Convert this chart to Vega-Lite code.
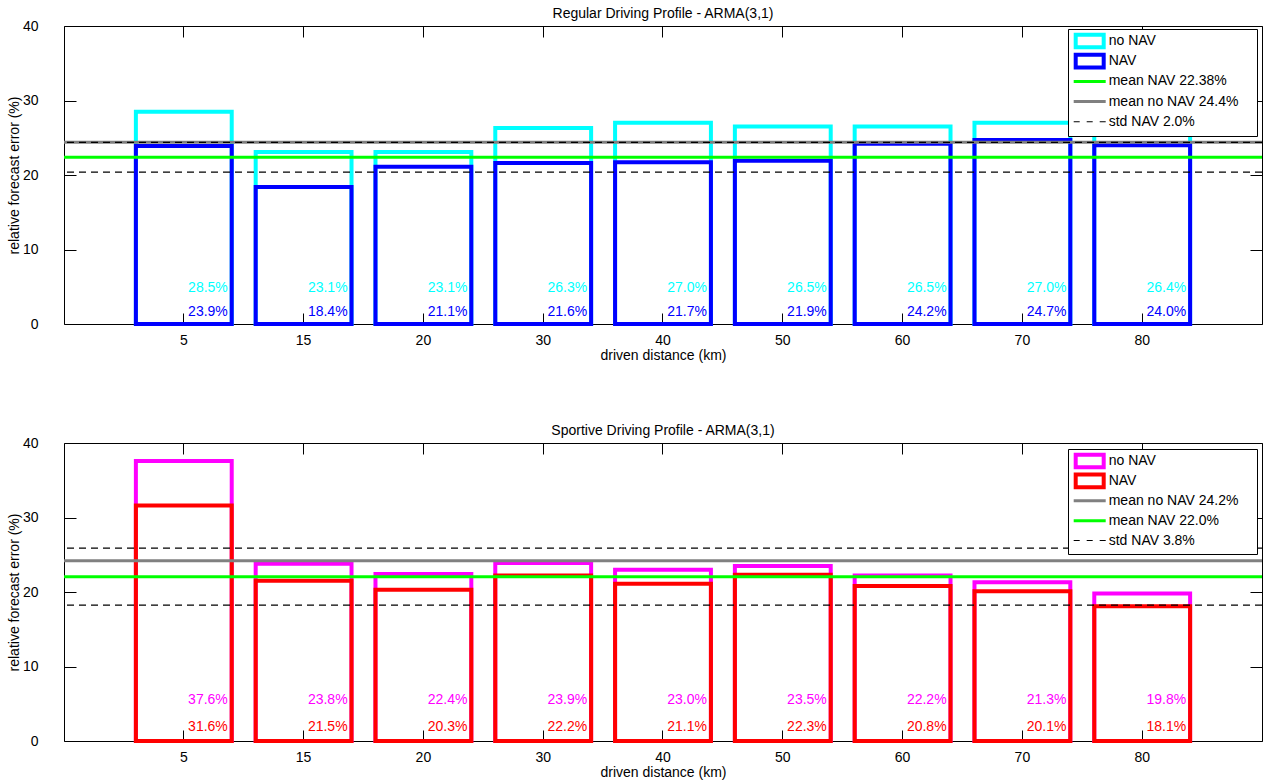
{
  "$schema": "https://vega.github.io/schema/vega-lite/v6.json",
  "padding": {"left": 6, "top": 6, "right": 0, "bottom": 0},
  "datasets": {
    "regular": [
      {"dist": "5", "noNav": 28.5, "nav": 23.9},
      {"dist": "15", "noNav": 23.1, "nav": 18.4},
      {"dist": "20", "noNav": 23.1, "nav": 21.1},
      {"dist": "30", "noNav": 26.3, "nav": 21.6},
      {"dist": "40", "noNav": 27.0, "nav": 21.7},
      {"dist": "50", "noNav": 26.5, "nav": 21.9},
      {"dist": "60", "noNav": 26.5, "nav": 24.2},
      {"dist": "70", "noNav": 27.0, "nav": 24.7},
      {"dist": "80", "noNav": 26.4, "nav": 24.0}
    ],
    "sportive": [
      {"dist": "5", "noNav": 37.6, "nav": 31.6},
      {"dist": "15", "noNav": 23.8, "nav": 21.5},
      {"dist": "20", "noNav": 22.4, "nav": 20.3},
      {"dist": "30", "noNav": 23.9, "nav": 22.2},
      {"dist": "40", "noNav": 23.0, "nav": 21.1},
      {"dist": "50", "noNav": 23.5, "nav": 22.3},
      {"dist": "60", "noNav": 22.2, "nav": 20.8},
      {"dist": "70", "noNav": 21.3, "nav": 20.1},
      {"dist": "80", "noNav": 19.8, "nav": 18.1}
    ]
  },
  "spacing": 60,
  "resolve": {"scale": {"x": "independent", "y": "independent", "fill": "independent"}, "legend": {"fill": "independent"}},
  "vconcat": [
    {
      "width": 1198, "height": 298,
      "title": {"text": "Regular Driving Profile - ARMA(3,1)"},
      "data": {"name": "regular"},
      "resolve": {"axis": {"x": "independent", "y": "independent"}},
      "layer": [
        {
          "mark": {"type": "bar", "filled": false, "stroke": "#00ffff", "strokeWidth": 4, "strokeJoin": "miter"},
          "encoding": {
            "x": {"field": "dist", "type": "ordinal", "scale": {"type": "band", "domain": ["5","15","20","30","40","50","60","70","80"], "paddingInner": 0.2, "paddingOuter": 0.6},
                  "axis": {"orient": "bottom", "title": "driven distance (km)", "tickSize": -11, "labelPadding": 20, "titlePadding": 1, "labelAngle": 0}},
            "y": {"field": "noNav", "type": "quantitative", "scale": {"domain": [0, 40], "nice": false},
                  "axis": {"orient": "left", "values": [0, 10, 20, 30, 40], "tickSize": -12, "labelPadding": 38, "title": "relative forecast error (%)", "titlePadding": 1}}
          }
        },
        {
          "mark": {"type": "bar", "filled": false, "stroke": "#0000ff", "strokeWidth": 4, "strokeJoin": "miter"},
          "encoding": {
            "x": {"field": "dist", "type": "ordinal", "scale": {"type": "band", "domain": ["5","15","20","30","40","50","60","70","80"], "paddingInner": 0.2, "paddingOuter": 0.6},
                  "axis": {"orient": "top", "labels": false, "title": null, "tickSize": -11}},
            "y": {"field": "nav", "type": "quantitative", "scale": {"domain": [0, 40], "nice": false},
                  "axis": {"orient": "right", "values": [0, 10, 20, 30, 40], "labels": false, "title": null, "tickSize": -12}}
          }
        },
        {
          "data": {"values": [{"v": 22.38}]},
          "mark": {"type": "rule", "color": "#00ff00", "strokeWidth": 3},
          "encoding": {"y": {"field": "v", "type": "quantitative", "axis": null}}
        },
        {
          "data": {"values": [{"v": 24.4}]},
          "mark": {"type": "rule", "color": "#808080", "strokeWidth": 3},
          "encoding": {"y": {"field": "v", "type": "quantitative", "axis": null}}
        },
        {
          "data": {"values": [{"v": 24.38}, {"v": 20.38}]},
          "mark": {"type": "rule", "color": "#000000", "strokeWidth": 1.2, "strokeDash": [7, 5]},
          "encoding": {"y": {"field": "v", "type": "quantitative", "axis": null}}
        },
        {
          "mark": {"type": "text", "align": "right", "baseline": "middle", "xOffset": 44, "fontSize": 14, "font": "Liberation Sans", "fill": "#00ffff",
                   "text": {"expr": "format(datum.noNav, '.1f') + '%'"}},
          "encoding": {
            "x": {"field": "dist", "type": "ordinal", "scale": {"type": "band", "domain": ["5","15","20","30","40","50","60","70","80"], "paddingInner": 0.2, "paddingOuter": 0.6}, "axis": null},
            "y": {"datum": 4.77, "type": "quantitative", "axis": null}
          }
        },
        {
          "mark": {"type": "text", "align": "right", "baseline": "middle", "xOffset": 44, "fontSize": 14, "font": "Liberation Sans", "fill": "#0000ff",
                   "text": {"expr": "format(datum.nav, '.1f') + '%'"}},
          "encoding": {
            "x": {"field": "dist", "type": "ordinal", "scale": {"type": "band", "domain": ["5","15","20","30","40","50","60","70","80"], "paddingInner": 0.2, "paddingOuter": 0.6}, "axis": null},
            "y": {"datum": 1.64, "type": "quantitative", "axis": null}
          }
        },
        {
          "data": {"values": [{"k": "no NAV"}]},
          "mark": {"type": "text", "text": ""},
          "encoding": {
            "fill": {"field": "k", "type": "nominal",
              "scale": {"domain": ["no NAV", "NAV", "mean NAV 22.38%", "mean no NAV 24.4%", "std NAV 2.0%"], "range": ["#00ffff", "#0000ff", "#00ff00", "#808080", "#000000"]},
              "legend": {
                "orient": "none", "legendX": 1004, "legendY": 3, "title": " ", "titleOrient": "right", "titlePadding": 14, "titleFontSize": 14,
                "fillColor": "white", "strokeColor": "black", "padding": 5,
                "labelFontSize": 14, "labelFont": "Liberation Sans", "labelColor": "black",
                "symbolSize": 169, "symbolStrokeWidth": 0, "symbolOffset": 9.7, "labelOffset": 12, "rowPadding": 2.2,
                "symbolOpacity": 1,
                "symbolType": {"expr": "(datum.value == 'no NAV' || datum.value == 'NAV') ? 'M-2.462,-1.285H2.462V1.285H-2.462ZM-1.846,-0.669V0.669H1.846V-0.669Z' : indexof(datum.value, 'std') == 0 ? 'M-2.462,-0.08H-1.538V0.08H-2.462ZM-0.462,-0.08H0.462V0.08H-0.462ZM1.538,-0.08H2.462V0.08H1.538ZM0,-1.285M0,1.285' : 'M-2.462,-0.231H2.462V0.231H-2.462ZM0,-1.285M0,1.285'"}
              }
            }
          }
        }
      ]
    },
    {
      "width": 1198, "height": 298,
      "title": {"text": "Sportive Driving Profile - ARMA(3,1)"},
      "data": {"name": "sportive"},
      "resolve": {"axis": {"x": "independent", "y": "independent"}},
      "layer": [
        {
          "mark": {"type": "bar", "filled": false, "stroke": "#ff00ff", "strokeWidth": 4, "strokeJoin": "miter"},
          "encoding": {
            "x": {"field": "dist", "type": "ordinal", "scale": {"type": "band", "domain": ["5","15","20","30","40","50","60","70","80"], "paddingInner": 0.2, "paddingOuter": 0.6},
                  "axis": {"orient": "bottom", "title": "driven distance (km)", "tickSize": -11, "labelPadding": 20, "titlePadding": 1, "labelAngle": 0}},
            "y": {"field": "noNav", "type": "quantitative", "scale": {"domain": [0, 40], "nice": false},
                  "axis": {"orient": "left", "values": [0, 10, 20, 30, 40], "tickSize": -12, "labelPadding": 38, "title": "relative forecast error (%)", "titlePadding": 1}}
          }
        },
        {
          "mark": {"type": "bar", "filled": false, "stroke": "#ff0000", "strokeWidth": 4, "strokeJoin": "miter"},
          "encoding": {
            "x": {"field": "dist", "type": "ordinal", "scale": {"type": "band", "domain": ["5","15","20","30","40","50","60","70","80"], "paddingInner": 0.2, "paddingOuter": 0.6},
                  "axis": {"orient": "top", "labels": false, "title": null, "tickSize": -11}},
            "y": {"field": "nav", "type": "quantitative", "scale": {"domain": [0, 40], "nice": false},
                  "axis": {"orient": "right", "values": [0, 10, 20, 30, 40], "labels": false, "title": null, "tickSize": -12}}
          }
        },
        {
          "data": {"values": [{"v": 24.2}]},
          "mark": {"type": "rule", "color": "#808080", "strokeWidth": 3},
          "encoding": {"y": {"field": "v", "type": "quantitative", "axis": null}}
        },
        {
          "data": {"values": [{"v": 22.05}]},
          "mark": {"type": "rule", "color": "#00ff00", "strokeWidth": 3},
          "encoding": {"y": {"field": "v", "type": "quantitative", "axis": null}}
        },
        {
          "data": {"values": [{"v": 25.9}, {"v": 18.25}]},
          "mark": {"type": "rule", "color": "#000000", "strokeWidth": 1.2, "strokeDash": [7, 5]},
          "encoding": {"y": {"field": "v", "type": "quantitative", "axis": null}}
        },
        {
          "mark": {"type": "text", "align": "right", "baseline": "middle", "xOffset": 44, "fontSize": 14, "font": "Liberation Sans", "fill": "#ff00ff",
                   "text": {"expr": "format(datum.noNav, '.1f') + '%'"}},
          "encoding": {
            "x": {"field": "dist", "type": "ordinal", "scale": {"type": "band", "domain": ["5","15","20","30","40","50","60","70","80"], "paddingInner": 0.2, "paddingOuter": 0.6}, "axis": null},
            "y": {"datum": 5.44, "type": "quantitative", "axis": null}
          }
        },
        {
          "mark": {"type": "text", "align": "right", "baseline": "middle", "xOffset": 44, "fontSize": 14, "font": "Liberation Sans", "fill": "#ff0000",
                   "text": {"expr": "format(datum.nav, '.1f') + '%'"}},
          "encoding": {
            "x": {"field": "dist", "type": "ordinal", "scale": {"type": "band", "domain": ["5","15","20","30","40","50","60","70","80"], "paddingInner": 0.2, "paddingOuter": 0.6}, "axis": null},
            "y": {"datum": 1.85, "type": "quantitative", "axis": null}
          }
        },
        {
          "data": {"values": [{"k": "no NAV"}]},
          "mark": {"type": "text", "text": ""},
          "encoding": {
            "fill": {"field": "k", "type": "nominal",
              "scale": {"domain": ["no NAV", "NAV", "mean no NAV 24.2%", "mean NAV 22.0%", "std NAV 3.8%"], "range": ["#ff00ff", "#ff0000", "#808080", "#00ff00", "#000000"]},
              "legend": {
                "orient": "none", "legendX": 1004, "legendY": 6, "title": " ", "titleOrient": "right", "titlePadding": 14, "titleFontSize": 14,
                "fillColor": "white", "strokeColor": "black", "padding": 5,
                "labelFontSize": 14, "labelFont": "Liberation Sans", "labelColor": "black",
                "symbolSize": 169, "symbolStrokeWidth": 0, "symbolOffset": 9.7, "labelOffset": 12, "rowPadding": 1.9,
                "symbolOpacity": 1,
                "symbolType": {"expr": "(datum.value == 'no NAV' || datum.value == 'NAV') ? 'M-2.462,-1.285H2.462V1.285H-2.462ZM-1.846,-0.669V0.669H1.846V-0.669Z' : indexof(datum.value, 'std') == 0 ? 'M-2.462,-0.08H-1.538V0.08H-2.462ZM-0.462,-0.08H0.462V0.08H-0.462ZM1.538,-0.08H2.462V0.08H1.538ZM0,-1.285M0,1.285' : 'M-2.462,-0.231H2.462V0.231H-2.462ZM0,-1.285M0,1.285'"}
              }
            }
          }
        }
      ]
    }
  ],
  "config": {
    "font": "Liberation Sans",
    "background": "white",
    "view": {"stroke": "black", "strokeWidth": 1},
    "title": {"fontSize": 14, "fontWeight": "normal", "font": "Liberation Sans", "color": "black", "offset": -2},
    "axis": {"labelFontSize": 14, "titleFontSize": 14, "titleFontWeight": "normal", "labelColor": "black", "titleColor": "black",
             "tickColor": "black", "domain": false, "grid": false, "labelFont": "Liberation Sans", "titleFont": "Liberation Sans"}
  }
}
